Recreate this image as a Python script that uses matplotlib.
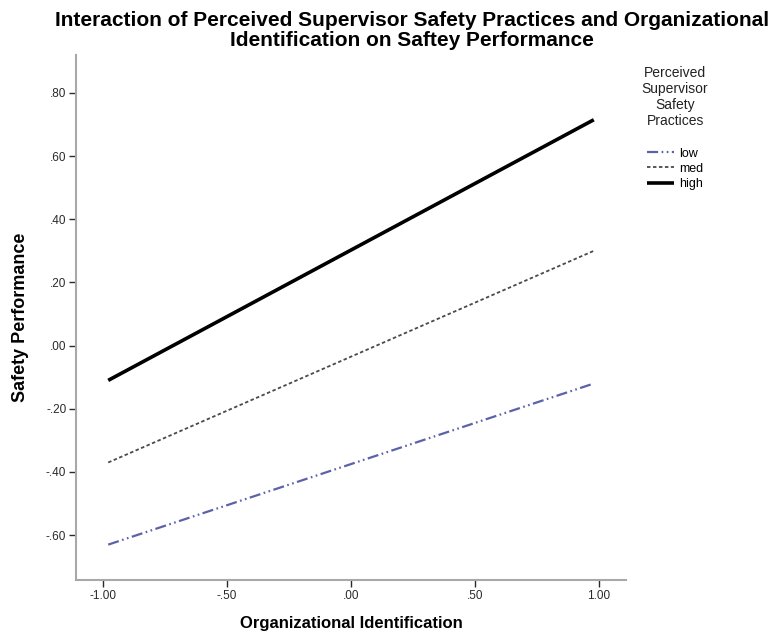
import matplotlib
matplotlib.use('Agg')
import matplotlib.pyplot as plt
import numpy as np

plt.rcParams['font.family'] = ['Liberation Sans', 'DejaVu Sans']
plt.rcParams['lines.scale_dashes'] = False

# data (simple slopes at low / med / high moderator)
x_ends = [-0.98, 0.98]
groups = ['low', 'med', 'high']
y_low = [-0.63, -0.12]
y_med = [-0.37, 0.30]
y_high = [-0.11, 0.715]
xticks = [-1.0, -0.5, 0.0, 0.5, 1.0]
xticklabels = ['-1.00', '-.50', '.00', '.50', '1.00']
yticks = [-0.6, -0.4, -0.2, 0.0, 0.2, 0.4, 0.6, 0.8]
yticklabels = ['-.60', '-.40', '-.20', '.00', '.20', '.40', '.60', '.80']

fig = plt.figure(figsize=(7.84, 6.38), dpi=100)
ax = fig.add_axes([76/784, 58/638, 550/784, 525/638])

ax.plot(x_ends, y_low, color='#5b62a8', lw=1.6, dashes=(8, 2.5, 1.2, 2.5, 1.2, 2.5), label=groups[0])
ax.plot(x_ends, y_med, color='#4a4a4a', lw=1.3, dashes=(2.5, 1.8), label=groups[1])
ax.plot(x_ends, y_high, color='black', lw=2.6, solid_capstyle='butt', label=groups[2])

ax.set_xlim(-1.11, 1.11)
ax.set_ylim(-0.742, 0.92)
ax.set_xticks(xticks)
ax.set_xticklabels(xticklabels)
ax.set_yticks(yticks)
ax.set_yticklabels(yticklabels)
ax.tick_params(axis='both', direction='out', length=5, width=1, colors='#2a2a2a', labelsize=8.5, pad=2)

for s in ['top', 'right']:
    ax.spines[s].set_visible(False)
for s in ['left', 'bottom']:
    ax.spines[s].set_color('#a8a8a8')
    ax.spines[s].set_linewidth(1.5)

ax.set_xlabel('Organizational Identification', fontsize=12, fontweight='bold', labelpad=10)
ax.set_ylabel('Safety Performance', fontsize=13, fontweight='bold', labelpad=12)

fig.text(0.526, 0.982, 'Interaction of Perceived Supervisor Safety Practices and Organizational\nIdentification on Saftey Performance',
         ha='center', va='top', fontsize=15, fontweight='bold', linespacing=1.02)

leg = ax.legend(title='Perceived\nSupervisor\nSafety\nPractices\n', loc='upper left', bbox_to_anchor=(0.99, 1.02),
                frameon=False, fontsize=9, title_fontsize=10, handlelength=2.2, handletextpad=0.4,
                labelspacing=0.25, borderpad=1.7, borderaxespad=0.0)
leg.get_title().set_multialignment('center')
leg.get_title().set_color('#222222')

fig.savefig('out.png', dpi=100)
